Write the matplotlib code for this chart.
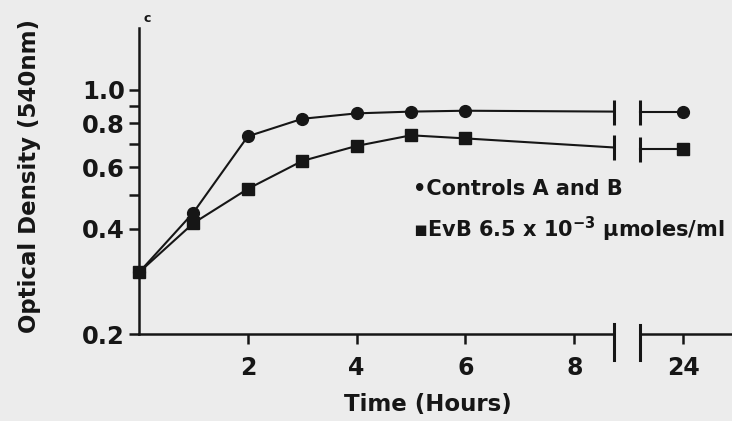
import matplotlib
matplotlib.use('Agg')
import matplotlib.pyplot as plt

# data
hours = [0, 1, 2, 3, 4, 5, 6]
controls = [0.30, 0.445, 0.735, 0.825, 0.855, 0.865, 0.87]
evb = [0.30, 0.415, 0.52, 0.625, 0.69, 0.74, 0.725]
controls_cut = 0.865   # line value where it meets the break
evb_cut = 0.683
late_hour = 24
controls_late = 0.865
evb_late = 0.678

y_ticks = [0.2, 0.4, 0.5, 0.6, 0.7, 0.8, 0.9, 1.0]
y_labels = ['0.2', '0.4', '', '0.6', '', '0.8', '', '1.0']
x_ticks = [2, 4, 6, 8]

ink = '#161616'
bg = '#ececec'
W, H = 732, 421
plt.rcParams['font.family'] = ['DejaVu Sans']
plt.rcParams['font.weight'] = 'bold'

fig = plt.figure(figsize=(W / 100, H / 100), dpi=100, facecolor=bg)


def box(x0, y0, x1, y1):
    # pixel box -> figure fraction
    return [x0 / W, 1 - y1 / H, (x1 - x0) / W, (y1 - y0) / H]


ax1 = fig.add_axes(box(139, 28, 614, 334))
ax2 = fig.add_axes(box(640, 28, 732, 334))
xcut = 8.73
for ax in (ax1, ax2):
    ax.set_facecolor('none')
    ax.set_yscale('log')
    ax.set_ylim(0.2, 1.5)
    for s in ('top', 'right'):
        ax.spines[s].set_visible(False)
    ax.spines['bottom'].set_linewidth(1.8)
    ax.spines['bottom'].set_color(ink)
    ax.tick_params(axis='x', direction='out', length=7, width=1.8,
                   colors=ink, labelsize=17, pad=9)
ax1.set_xlim(0, xcut)
ax2.set_xlim(23.21, 24.9)
ax2.spines['left'].set_visible(False)
ax2.set_yticks([])
ax2.minorticks_off()
ax2.tick_params(axis='y', which='both', left=False, labelleft=False)

ax1.spines['left'].set_linewidth(1.8)
ax1.spines['left'].set_color(ink)
ax1.set_yticks(y_ticks)
ax1.set_yticklabels(y_labels)
ax1.minorticks_off()
ax1.tick_params(axis='y', direction='out', length=7, width=1.8,
                colors=ink, labelsize=17.5, pad=3)
ax1.set_xticks(x_ticks)
ax2.set_xticks([late_hour])

lw = 1.5
ax1.plot(hours + [xcut], controls + [controls_cut], color=ink, lw=lw,
         clip_on=False, zorder=2)
ax1.plot(hours + [xcut], evb + [evb_cut], color=ink, lw=lw,
         clip_on=False, zorder=2)
ax1.plot(hours, controls, 'o', color=ink, ms=8.5, clip_on=False, zorder=3)
ax1.plot(hours, evb, 's', color=ink, ms=8.5, clip_on=False, zorder=3)
ax1.plot([xcut, xcut], [controls_cut, evb_cut], '|', color=ink, ms=18,
         mew=2.2, clip_on=False)

x0 = ax2.get_xlim()[0]
ax2.plot([x0, late_hour], [controls_late, controls_late], color=ink, lw=lw,
         clip_on=False)
ax2.plot([x0, late_hour], [evb_late, evb_late], color=ink, lw=lw,
         clip_on=False)
ax2.plot([late_hour], [controls_late], 'o', color=ink, ms=8.5, clip_on=False)
ax2.plot([late_hour], [evb_late], 's', color=ink, ms=9, clip_on=False)
ax2.plot([x0, x0], [controls_late, evb_late], '|', color=ink, ms=18,
         mew=2.2, clip_on=False)

# break marks on the time axis
ax1.plot([xcut, xcut], [0.033, -0.085], color=ink, lw=2.2, clip_on=False,
         transform=ax1.get_xaxis_transform())
ax2.plot([x0, x0], [0.03, -0.085], color=ink, lw=2.2, clip_on=False,
         transform=ax2.get_xaxis_transform())

fig.text(30 / W, 1 - 176 / H, 'Optical Density (540nm)', rotation=90,
         ha='center', va='center', fontsize=16.5, color=ink)
fig.text(428 / W, 1 - 405 / H, 'Time (Hours)', ha='center', va='center',
         fontsize=16.5, color=ink)
fig.text(143 / W, 1 - 18 / H, 'c', ha='left', va='center', fontsize=9,
         color=ink)

fig.text(413 / W, 1 - 189 / H, '\u2022Controls A and B', ha='left',
         va='center', fontsize=15, color=ink)
fig.text(413 / W, 1 - 229 / H,
         '\u25aaEvB 6.5 x 10$^{\\mathbf{-3}}$ \u00b5moles/ml', ha='left',
         va='center', fontsize=15, color=ink)

fig.savefig('out.png', dpi=100, facecolor=bg)
